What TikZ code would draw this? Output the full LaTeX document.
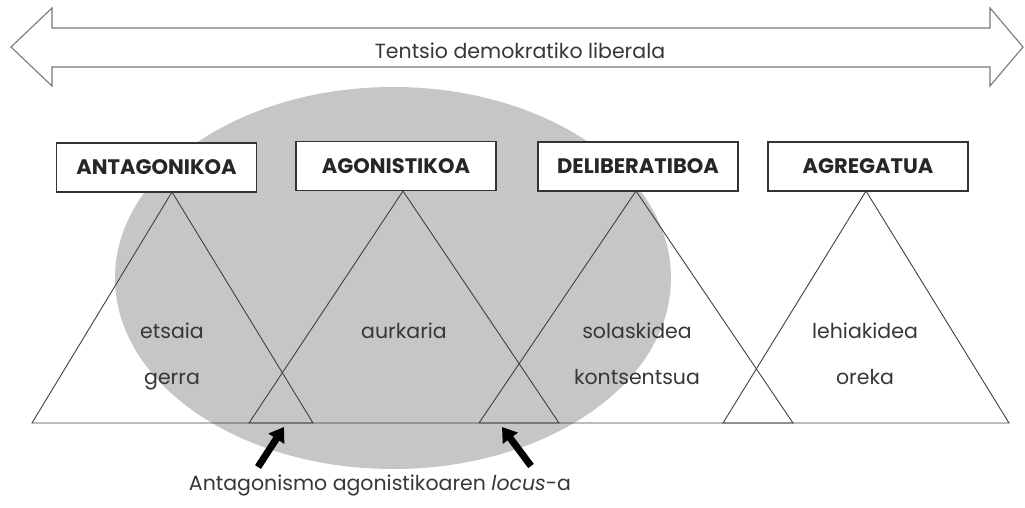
\documentclass[tikz,border=0pt]{standalone}
\usepackage{fontspec}
\setmainfont{Poppins}
\usetikzlibrary{arrows.meta}
\definecolor{ellgray}{RGB}{198,198,198}
\definecolor{txtgray}{RGB}{55,55,55}
\definecolor{arrgray}{RGB}{120,120,120}
\tikzset{
  catbox/.style={draw=black!80, line width=1.2pt, fill=white, minimum width=200pt, minimum height=49pt, inner sep=0pt, font=\fontsize{21}{24}\selectfont\bfseries, text=black!85},
  tri/.style={draw=black!75, line width=0.9pt, line join=miter},
  lbl/.style={anchor=base, font=\fontsize{20.5}{24}\selectfont, text=txtgray, inner sep=0pt},
  bigarrow/.style={-{Triangle[width=18pt,length=14pt]}, line width=7pt, black}
}
\begin{document}
\begin{tikzpicture}[x=1pt,y=-1pt]
\useasboundingbox (0,0) rectangle (1025,508);
% double arrow
\draw[arrgray, line width=1.1pt, fill=white, line join=miter]
  (11,47) -- (52,8) -- (52,28) -- (990,28) -- (990,8) -- (1023,47)
  -- (990,86) -- (990,67) -- (52,67) -- (52,86) -- cycle;
\node[lbl] (tension) at (520,59) {Tentsio demokratiko liberala};
% ellipse
\fill[ellgray] (393,278) ellipse [x radius=278, y radius=191];
% apexes and base points
\coordinate (a1) at (172,192); \coordinate (l1) at (32,423);  \coordinate (r1) at (313,423);
\coordinate (a2) at (403,191); \coordinate (l2) at (249,423); \coordinate (r2) at (559,423);
\coordinate (a3) at (636,191); \coordinate (l3) at (479,423); \coordinate (r3) at (793,423);
\coordinate (a4) at (866,191); \coordinate (l4) at (723,423); \coordinate (r4) at (1009,423);
\draw[tri] (a1) -- (l1) -- (r1) -- cycle;
\draw[tri] (a2) -- (l2) -- (r2) -- cycle;
\draw[tri] (a3) -- (l3) -- (r3) -- cycle;
\draw[tri] (a4) -- (l4) -- (r4) -- cycle;
% boxes
\node[catbox] (b1) at (156.5,167.5) {ANTAGONIKOA};
\node[catbox] (b2) at (396,166) {AGONISTIKOA};
\node[catbox] (b3) at (638,166.5) {DELIBERATIBOA};
\node[catbox] (b4) at (868,166.5) {AGREGATUA};
% labels
\node[lbl] (t1a) at (172,338) {etsaia};
\node[lbl] (t1b) at (172,384) {gerra};
\node[lbl] (t2a) at (404,338) {aurkaria};
\node[lbl] (t3a) at (637,338) {solaskidea};
\node[lbl] (t3b) at (637,384) {kontsentsua};
\node[lbl] (t4a) at (865,338) {lehiakidea};
\node[lbl] (t4b) at (865,384) {oreka};
% bottom arrows
\coordinate (s1) at (258,467); \coordinate (e1) at (284,427);
\coordinate (s2) at (531,466); \coordinate (e2) at (502,427);
\draw[bigarrow] (s1) -- (e1);
\draw[bigarrow] (s2) -- (e2);
\node[lbl] (locus) at (380,490) {Antagonismo agonistikoaren \textit{locus}-a};
\end{tikzpicture}
\end{document}
